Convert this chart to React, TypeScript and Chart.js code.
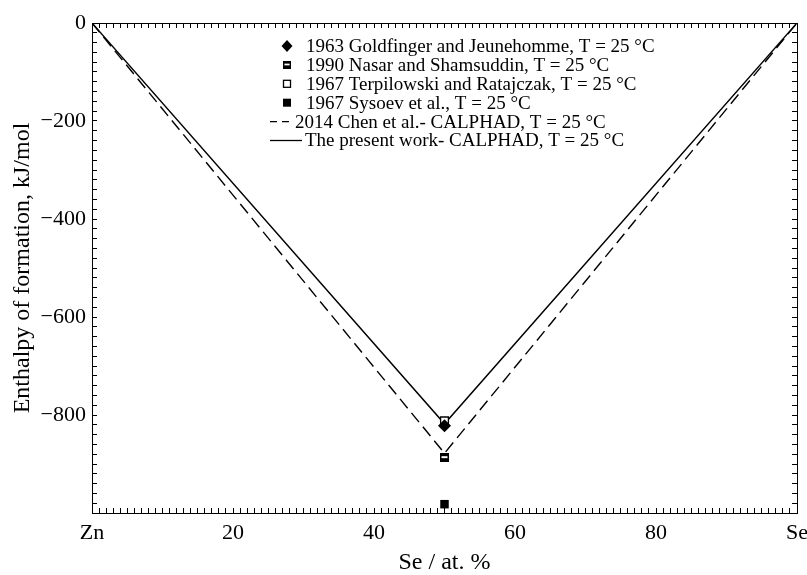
import React, { useEffect, useRef } from 'react';
import { Chart, registerables } from 'chart.js';

Chart.register(...registerables);

// ---- data ----
const curveX = [0, 50, 100];
const chenCurveY = [0, -878, 0];
const presentCurveY = [0, -818, 0];

const expX = [50];
const goldfingerY = [-822];
const nasarY = [-887];
const terpilowskiY = [-812];
const sysoevY = [-982];

const xMajorTicks = [0, 20, 40, 60, 80, 100];
const xTickLabels = ['Zn', '20', '40', '60', '80', 'Se'];
const yMajorTicks = [0, -200, -400, -600, -800];
const yTickLabels = ['0', '\u2212200', '\u2212400', '\u2212600', '\u2212800'];

const xMinorStep = 1;
const yMinorStep = 20;

const seriesLabels = [
  '1963 Goldfinger and Jeunehomme, T = 25 \u00B0C',
  '1990 Nasar and Shamsuddin, T = 25 \u00B0C',
  '1967 Terpilowski and Ratajczak, T = 25 \u00B0C',
  '1967 Sysoev et al., T = 25 \u00B0C',
  '2014 Chen et al.- CALPHAD, T = 25 \u00B0C',
  'The present work- CALPHAD, T = 25 \u00B0C',
];

const FONT = '"Liberation Serif", "Times New Roman", serif';

function range(a: number, b: number, step: number) {
  const out: number[] = [];
  for (let v = a; v <= b + 1e-9; v += step) out.push(Math.round(v * 1000) / 1000);
  return out;
}

function makeStripedSquare(size: number) {
  const c = document.createElement('canvas');
  c.width = size;
  c.height = size;
  const g = c.getContext('2d')!;
  g.fillStyle = '#000';
  g.fillRect(0, 0, size, size);
  g.fillStyle = '#fff';
  g.fillRect(1.5, Math.floor(size / 2) - 1, size - 3, 2);
  return c;
}

const insideLegend = {
  id: 'insideLegend',
  afterDatasetsDraw(chart: any) {
    const { ctx, chartArea } = chart;
    const mx = chartArea.left + 195;
    const y0 = chartArea.top + 23;
    const rowH = 18.9;
    ctx.save();
    ctx.font = '19px ' + FONT;
    ctx.textBaseline = 'middle';
    ctx.fillStyle = '#000';
    ctx.strokeStyle = '#000';
    chart.data.datasets.forEach((ds: any, i: number) => {
      const y = y0 + i * rowH;
      let tx = mx + 19;
      const kind = ds.legendKind;
      ctx.save();
      if (kind === 'diamond') {
        ctx.beginPath();
        ctx.moveTo(mx, y - 6);
        ctx.lineTo(mx + 5.5, y);
        ctx.lineTo(mx, y + 6);
        ctx.lineTo(mx - 5.5, y);
        ctx.closePath();
        ctx.fill();
      } else if (kind === 'striped') {
        ctx.drawImage(ds.pointStyle, mx - 4, y - 4, 8, 8);
      } else if (kind === 'open') {
        ctx.lineWidth = 1.3;
        ctx.fillStyle = '#fff';
        ctx.fillRect(mx - 3.5, y - 3.5, 7, 7);
        ctx.strokeRect(mx - 3.5, y - 3.5, 7, 7);
      } else if (kind === 'filled') {
        ctx.fillRect(mx - 4, y - 4, 8, 8);
      } else if (kind === 'dashed') {
        ctx.lineWidth = 1.4;
        ctx.setLineDash([7, 5]);
        ctx.beginPath();
        ctx.moveTo(mx - 17, y);
        ctx.lineTo(mx + 4, y);
        ctx.stroke();
        tx = mx + 8;
      } else if (kind === 'solid') {
        ctx.lineWidth = 1.3;
        ctx.beginPath();
        ctx.moveTo(mx - 17, y);
        ctx.lineTo(mx + 15, y);
        ctx.stroke();
        tx = mx + 18;
      }
      ctx.restore();
      ctx.fillText(ds.label, tx, y + 1);
    });
    ctx.restore();
  },
};

function labelFrom(majors: number[], labels: string[]) {
  return (value: any) => {
    const k = majors.findIndex((m) => Math.abs(m - Number(value)) < 1e-6);
    return k >= 0 ? labels[k] : '';
  };
}

export default function App() {
  const ref = useRef<HTMLCanvasElement>(null);

  useEffect(() => {
    document.body.style.margin = '0';
    Chart.defaults.font.family = FONT;
    Chart.defaults.color = '#000';

    const striped = makeStripedSquare(9);
    const pts = (ys: number[]) => ys.map((y, i) => ({ x: expX[i], y }));
    const curve = (ys: number[]) => ys.map((y, i) => ({ x: curveX[i], y }));

    const gridOpts = {
      drawOnChartArea: false,
      drawTicks: true,
      tickLength: -5,
      tickColor: '#000',
      tickWidth: 1,
    };
    const borderOpts = { display: true, color: '#000', width: 1 };
    const xMinor = range(0, 100, xMinorStep);
    const yMinor = range(-1000, 0, yMinorStep);

    const chart = new Chart(ref.current!, {
      type: 'scatter',
      data: {
        datasets: [
          {
            label: seriesLabels[0],
            legendKind: 'diamond',
            data: pts(goldfingerY),
            pointStyle: 'rectRot',
            pointRadius: 6.5,
            backgroundColor: '#000',
            borderColor: '#000',
            borderWidth: 0,
          } as any,
          {
            label: seriesLabels[1],
            legendKind: 'striped',
            data: pts(nasarY),
            pointStyle: striped,
            pointRadius: 5,
          } as any,
          {
            label: seriesLabels[2],
            legendKind: 'open',
            data: pts(terpilowskiY),
            pointStyle: 'rect',
            pointRadius: 5.5,
            backgroundColor: '#fff',
            borderColor: '#000',
            borderWidth: 1.3,
          } as any,
          {
            label: seriesLabels[3],
            legendKind: 'filled',
            data: pts(sysoevY),
            pointStyle: 'rect',
            pointRadius: 6,
            backgroundColor: '#000',
            borderColor: '#000',
            borderWidth: 0,
          } as any,
          {
            type: 'line',
            label: seriesLabels[4],
            legendKind: 'dashed',
            data: curve(chenCurveY),
            borderColor: '#000',
            borderWidth: 1.4,
            borderDash: [12, 6],
            pointRadius: 0,
            fill: false,
            tension: 0,
          } as any,
          {
            type: 'line',
            label: seriesLabels[5],
            legendKind: 'solid',
            data: curve(presentCurveY),
            borderColor: '#000',
            borderWidth: 1.4,
            pointRadius: 0,
            fill: false,
            tension: 0,
          } as any,
        ],
      },
      options: {
        animation: false,
        responsive: true,
        maintainAspectRatio: false,
        events: [],
        layout: { padding: { left: 0, right: 10, top: 23, bottom: 0 } },
        plugins: {
          legend: { display: false },
          tooltip: { enabled: false },
        },
        scales: {
          x: {
            type: 'linear',
            position: 'bottom',
            min: 0,
            max: 100,
            afterBuildTicks: (s: any) => {
              s.ticks = xMinor.map((v) => ({ value: v }));
            },
            ticks: {
              autoSkip: false,
              maxRotation: 0,
              padding: 12,
              font: { size: 22 },
              color: '#000',
              callback: labelFrom(xMajorTicks, xTickLabels),
            },
            grid: gridOpts,
            border: borderOpts,
            title: {
              display: true,
              text: 'Se / at. %',
              font: { size: 24 },
              color: '#000',
              padding: { top: 0, bottom: -2 },
            },
            afterFit: (s: any) => {
              s.height = 62;
              s.paddingLeft = 0;
              s.paddingRight = 0;
            },
          },
          x2: {
            type: 'linear',
            position: 'top',
            min: 0,
            max: 100,
            afterBuildTicks: (s: any) => {
              s.ticks = xMinor.map((v) => ({ value: v }));
            },
            ticks: { display: false },
            grid: gridOpts,
            border: borderOpts,
            afterFit: (s: any) => {
              s.height = 0;
              s.paddingLeft = 0;
              s.paddingRight = 0;
            },
          },
          y: {
            type: 'linear',
            position: 'left',
            min: -1000,
            max: 0,
            afterBuildTicks: (s: any) => {
              s.ticks = yMinor.map((v) => ({ value: v }));
            },
            ticks: {
              autoSkip: false,
              padding: 11,
              font: { size: 22 },
              color: '#000',
              callback: labelFrom(yMajorTicks, yTickLabels),
            },
            grid: gridOpts,
            border: borderOpts,
            title: {
              display: true,
              text: 'Enthalpy of formation, kJ/mol',
              font: { size: 24 },
              color: '#000',
              padding: { top: 8, bottom: 0 },
            },
            afterFit: (s: any) => {
              s.width = 92;
              s.paddingTop = 0;
              s.paddingBottom = 0;
            },
          },
          y2: {
            type: 'linear',
            position: 'right',
            min: -1000,
            max: 0,
            afterBuildTicks: (s: any) => {
              s.ticks = yMinor.map((v) => ({ value: v }));
            },
            ticks: { display: false },
            grid: gridOpts,
            border: borderOpts,
            afterFit: (s: any) => {
              s.width = 0;
              s.paddingTop = 0;
              s.paddingBottom = 0;
            },
          },
        },
      } as any,
      plugins: [insideLegend],
    });

    return () => chart.destroy();
  }, []);

  return (
    <div style={{ width: 807, height: 575, position: 'relative' }}>
      <canvas ref={ref} />
    </div>
  );
}
